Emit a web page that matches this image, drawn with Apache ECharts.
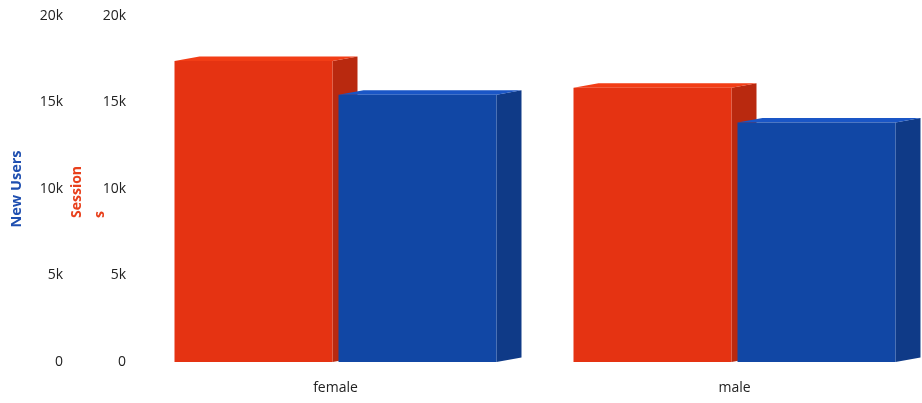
<!DOCTYPE html>
<html><head><meta charset="utf-8">
<script src="https://cdn.jsdelivr.net/npm/echarts@6/dist/echarts.min.js"></script>
<style>html,body{margin:0;padding:0;background:#fff}#c{width:922px;height:403px}</style>
</head><body><div id="c"></div>
<script>
const categories = ['female', 'male'];
const sessions = [17400, 15850];
const newUsers = [15450, 13850];
const yTicks = [0, 5000, 10000, 15000, 20000];

const FONT = '"Open Sans", sans-serif';
function make3d(side, colors) {
  return function (params, api) {
    const idx = api.value(0), val = api.value(1);
    const c = api.coord([idx, val]);
    const base = api.coord([idx, 0]);
    const band = api.size([1, 0])[0];
    const w = band * 0.396, gap = band * 0.015;
    const x0 = side === 'left' ? c[0] - gap / 2 - w : c[0] + gap / 2;
    const x1 = x0 + w;
    const top = c[1], bot = base[1];
    const dx = 25, dy = -4.5;
    return {
      type: 'group',
      children: [
        { type: 'polygon', shape: { points: [[x1, top], [x1 + dx, top + dy], [x1 + dx, bot + dy], [x1, bot]] }, style: { fill: colors.side } },
        { type: 'polygon', shape: { points: [[x0, top], [x0 + dx, top + dy], [x1 + dx, top + dy], [x1, top]] }, style: { fill: colors.top } },
        { type: 'rect', shape: { x: x0, y: top, width: w, height: bot - top }, style: { fill: colors.front } }
      ]
    };
  };
}
const chart = echarts.init(document.getElementById('c'));
const fmt = v => v === 0 ? '0' : (v / 1000) + 'k';
const yBase = {
  type: 'value', min: yTicks[0], max: yTicks[yTicks.length - 1], interval: yTicks[1] - yTicks[0],
  position: 'left', nameLocation: 'middle', nameMoveOverlap: false,
  axisLine: { show: false }, axisTick: { show: false }, splitLine: { show: false },
  axisLabel: { formatter: fmt, color: '#222', fontSize: 14, fontFamily: FONT, margin: 10 }
};
chart.setOption({
  animation: false,
  grid: { left: 136, top: 16, bottom: 41, right: -12, containLabel: false, outerBoundsMode: 'none' },
  xAxis: {
    type: 'category', data: categories,
    axisLine: { show: false }, axisTick: { show: false },
    axisLabel: { color: '#222', fontSize: 14, fontFamily: FONT, margin: 19 }
  },
  yAxis: [
    Object.assign({}, yBase, {
      offset: 63, name: 'New Users', nameGap: 49,
      nameTextStyle: { color: '#1f4fb0', fontWeight: 'bold', fontSize: 14.5, fontFamily: FONT }
    }),
    Object.assign({}, yBase, {
      offset: 0, name: '{a|Session}\n{a|s}', nameGap: 24,
      nameTextStyle: { color: '#e8401c', fontWeight: 'bold', fontSize: 14, fontFamily: FONT,
        rich: { a: { width: 58, align: 'left', lineHeight: 23, color: '#e8401c', fontWeight: 'bold', fontSize: 14, fontFamily: FONT } } }
    })
  ],
  series: [
    { type: 'custom', name: 'Sessions', yAxisIndex: 1, renderItem: make3d('left', { front: '#e53312', side: '#b9290f', top: '#f23d16' }),
      encode: { x: 0, y: 1 }, data: sessions.map((v, i) => [i, v]) },
    { type: 'custom', name: 'New Users', yAxisIndex: 0, renderItem: make3d('right', { front: '#1147a5', side: '#0f3a87', top: '#1a56c6' }),
      encode: { x: 0, y: 1 }, data: newUsers.map((v, i) => [i, v]) }
  ]
});
</script></body></html>
